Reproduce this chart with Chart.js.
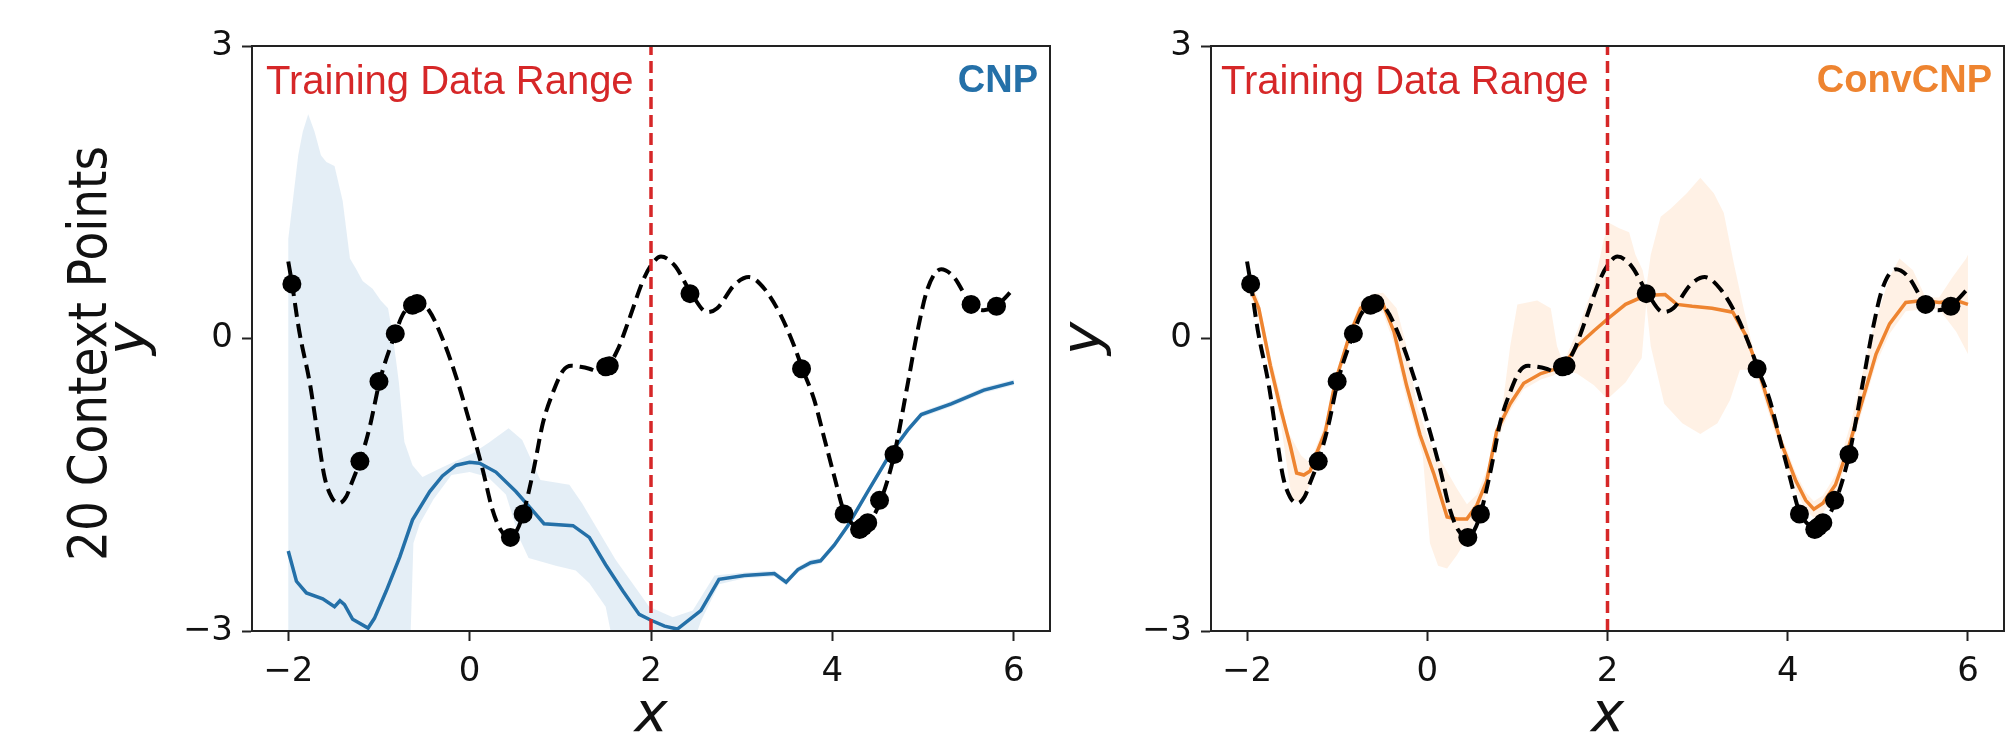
<!DOCTYPE html>
<html>
<head>
<meta charset="utf-8">
<title>CNP vs ConvCNP</title>
<script src="https://cdn.jsdelivr.net/npm/chart.js@4.4.1/dist/chart.umd.min.js"></script>
<style>
  html, body { margin: 0; padding: 0; background: #fff; overflow: hidden; }
  body { position: relative; width: 2016px; height: 739px; }
  canvas { position: absolute; top: 0; }
  #cnpChart { left: 0; }
  #convChart { left: 1030px; }
</style>
</head>
<body>
<canvas id="cnpChart" width="1070" height="750"></canvas>
<canvas id="convChart" width="986" height="750"></canvas>
<script>
// Axis setup shared by both panels
const xTicks = [-2, 0, 2, 4, 6];
const yTicks = [-3, 0, 3];
const xRange = [-2.4, 6.4];
const yRange = [-3, 3];
const trainingLimit = 2;

// Ground truth function (black dashed), same in both panels
const truthX = [-2.00, -1.96, -1.88, -1.76, -1.67, -1.60, -1.52, -1.44, -1.36, -1.30, -1.21, -1.10, -0.99, -0.82, -0.74, -0.64, -0.55, -0.45, -0.30, -0.15,
  0.00, 0.14, 0.25, 0.34, 0.44, 0.52, 0.59, 0.70, 0.81, 0.92, 1.03, 1.12, 1.22, 1.32, 1.42, 1.52, 1.63, 1.76, 1.91, 2.00,
  2.11, 2.26, 2.44, 2.62, 2.73, 2.92, 3.08, 3.25, 3.43, 3.58, 3.67, 3.80, 3.91, 4.02, 4.13, 4.22, 4.31, 4.41, 4.53, 4.68,
  4.83, 4.94, 5.05, 5.20, 5.34, 5.53, 5.67, 5.80, 6.00];
const truthY = [0.79, 0.57, 0.08, -0.47, -1.02, -1.42, -1.63, -1.69, -1.62, -1.48, -1.26, -0.90, -0.43, 0.05, 0.24, 0.34, 0.36, 0.29, 0.00, -0.39,
  -0.86, -1.33, -1.75, -1.96, -2.04, -1.97, -1.80, -1.37, -0.86, -0.55, -0.33, -0.28, -0.29, -0.31, -0.34, -0.29, -0.12, 0.20, 0.59, 0.75,
  0.84, 0.75, 0.47, 0.27, 0.31, 0.55, 0.63, 0.51, 0.24, -0.08, -0.31, -0.63, -1.02, -1.41, -1.78, -1.90, -1.93, -1.88, -1.67, -1.20,
  -0.47, 0.08, 0.51, 0.71, 0.63, 0.35, 0.29, 0.33, 0.51];

// 20 context points
const contextX = [-1.96, -1.21, -1.00, -0.82, -0.63, -0.58, 0.45, 0.59, 1.50, 1.54, 2.43, 3.66, 4.13, 4.30, 4.34, 4.39, 4.52, 4.68, 5.53, 5.81];
const contextY = [0.56, -1.26, -0.44, 0.05, 0.34, 0.36, -2.04, -1.80, -0.29, -0.28, 0.46, -0.31, -1.80, -1.96, -1.93, -1.89, -1.66, -1.19, 0.35, 0.33];

// CNP mean and confidence band
const cnpMeanX = [-2.00, -1.91, -1.80, -1.62, -1.49, -1.43, -1.38, -1.29, -1.12, -1.05, -0.92, -0.77, -0.63, -0.44, -0.30, -0.15, 0.00, 0.11, 0.29, 0.51,
  0.70, 0.82, 1.14, 1.32, 1.50, 1.69, 1.87, 2.00, 2.15, 2.29, 2.55, 2.75, 3.03, 3.36, 3.49, 3.62, 3.76, 3.87, 4.02, 4.17,
  4.39, 4.64, 4.83, 4.98, 5.31, 5.67, 6.00];
const cnpMeanY = [-2.18, -2.49, -2.61, -2.67, -2.75, -2.69, -2.73, -2.88, -2.97, -2.87, -2.59, -2.24, -1.86, -1.57, -1.41, -1.30, -1.27, -1.28, -1.37, -1.57,
  -1.77, -1.90, -1.92, -2.04, -2.32, -2.59, -2.83, -2.89, -2.95, -2.98, -2.79, -2.47, -2.43, -2.41, -2.50, -2.37, -2.30, -2.28, -2.12, -1.92,
  -1.57, -1.18, -0.94, -0.78, -0.67, -0.53, -0.45];
const cnpUpperX = [-2.00, -1.95, -1.89, -1.84, -1.78, -1.71, -1.64, -1.58, -1.49, -1.40, -1.32, -1.25, -1.18, -1.07, -0.98, -0.90, -0.85, -0.78, -0.72, -0.63,
  -0.52, -0.30, 0.03, 0.21, 0.43, 0.58, 0.78, 1.10, 1.24, 1.61, 1.98, 2.24, 2.46, 2.70, 3.03, 3.36, 3.49, 3.62, 3.76, 3.87,
  4.02, 4.17, 4.39, 4.64, 4.83, 4.98, 5.31, 5.67, 6.00];
const cnpUpperY = [1.02, 1.41, 1.88, 2.12, 2.30, 2.12, 1.88, 1.81, 1.77, 1.41, 0.82, 0.71, 0.59, 0.51, 0.39, 0.31, 0.05, -0.45, -1.06, -1.30,
  -1.42, -1.32, -1.18, -1.07, -0.92, -1.04, -1.45, -1.50, -1.69, -2.27, -2.75, -2.86, -2.79, -2.43, -2.40, -2.38, -2.47, -2.34, -2.27, -2.25,
  -2.09, -1.89, -1.54, -1.15, -0.91, -0.75, -0.64, -0.50, -0.42];
const cnpLowerX = [-2.00, -0.66, -0.62, -0.55, -0.40, -0.20, 0.00, 0.20, 0.40, 0.55, 0.65, 0.95, 1.17, 1.32, 1.50, 1.62, 2.40, 2.55, 2.75, 3.03,
  3.36, 3.49, 3.62, 3.76, 3.87, 4.02, 4.17, 4.39, 4.64, 4.83, 4.98, 5.31, 5.67, 6.00];
const cnpLowerY = [-3.30, -3.30, -2.10, -1.90, -1.65, -1.40, -1.37, -1.42, -1.60, -2.05, -2.25, -2.33, -2.38, -2.51, -2.75, -3.30, -3.30, -2.90, -2.52, -2.46,
  -2.44, -2.53, -2.40, -2.33, -2.31, -2.15, -1.95, -1.60, -1.21, -0.97, -0.81, -0.70, -0.56, -0.48];

// ConvCNP mean and confidence band
const convMeanX = [-2.00, -1.87, -1.74, -1.63, -1.52, -1.45, -1.37, -1.30, -1.23, -1.13, -1.02, -0.86, -0.74, -0.60, -0.49, -0.37, -0.23, -0.08, 0.07, 0.22,
  0.33, 0.44, 0.55, 0.66, 0.77, 0.92, 1.07, 1.26, 1.40, 1.51, 1.66, 1.85, 2.00, 2.20, 2.42, 2.64, 2.77, 2.94, 3.16, 3.39,
  3.53, 3.66, 3.79, 3.94, 4.09, 4.20, 4.29, 4.39, 4.53, 4.68, 4.83, 4.98, 5.13, 5.31, 5.50, 5.68, 5.87, 6.00];
const convMeanY = [0.60, 0.31, -0.28, -0.71, -1.10, -1.38, -1.40, -1.36, -1.18, -0.95, -0.44, 0.04, 0.31, 0.39, 0.35, 0.07, -0.48, -0.99, -1.38, -1.83,
  -1.85, -1.85, -1.71, -1.46, -0.95, -0.67, -0.46, -0.36, -0.32, -0.28, -0.08, 0.08, 0.20, 0.35, 0.44, 0.45, 0.35, 0.33, 0.31, 0.27,
  0.04, -0.28, -0.67, -1.10, -1.46, -1.66, -1.75, -1.69, -1.50, -1.10, -0.63, -0.16, 0.15, 0.37, 0.39, 0.37, 0.39, 0.35];
const convUpperX = [-2.00, -1.87, -1.74, -1.63, -1.55, -1.50, -1.40, -1.30, -1.23, -1.13, -1.02, -0.86, -0.74, -0.60, -0.49, -0.34, -0.23, -0.11, 0.03, 0.18,
  0.33, 0.44, 0.55, 0.66, 0.81, 0.92, 1.00, 1.22, 1.37, 1.44, 1.51, 1.66, 1.85, 1.96, 2.03, 2.13, 2.24, 2.31, 2.39, 2.43,
  2.48, 2.59, 2.70, 2.88, 3.03, 3.18, 3.29, 3.40, 3.51, 3.64, 3.76, 3.94, 4.09, 4.20, 4.29, 4.39, 4.53, 4.70, 4.94, 5.13,
  5.24, 5.39, 5.53, 5.68, 5.83, 5.98, 6.00];
const convUpperY = [0.68, 0.40, -0.18, -0.58, -0.95, -1.03, -1.20, -1.28, -1.10, -0.87, -0.38, 0.10, 0.38, 0.46, 0.47, 0.31, -0.08, -0.71, -1.07, -1.30,
  -1.54, -1.70, -1.60, -1.35, -0.87, -0.08, 0.35, 0.39, 0.31, -0.08, -0.25, 0.07, 0.55, 1.02, 1.18, 1.13, 1.09, 0.86, 0.70, 0.52,
  0.86, 1.25, 1.33, 1.49, 1.65, 1.49, 1.29, 0.78, 0.31, -0.20, -0.55, -1.02, -1.38, -1.58, -1.67, -1.61, -1.40, -0.87, 0.07, 0.63,
  0.82, 0.70, 0.42, 0.42, 0.63, 0.82, 0.86];
const convLowerX = [-2.00, -1.87, -1.74, -1.63, -1.55, -1.50, -1.40, -1.30, -1.23, -1.13, -1.02, -0.86, -0.74, -0.60, -0.49, -0.37, -0.23, -0.05, 0.03, 0.12,
  0.22, 0.33, 0.44, 0.55, 0.66, 0.77, 0.92, 1.07, 1.26, 1.40, 1.51, 1.66, 1.85, 2.00, 2.20, 2.38, 2.43, 2.48, 2.63, 2.83,
  3.03, 3.22, 3.36, 3.47, 3.55, 3.66, 3.79, 3.94, 4.09, 4.20, 4.29, 4.39, 4.53, 4.68, 4.83, 4.98, 5.13, 5.31, 5.50, 5.68,
  5.87, 6.00];
const convLowerY = [0.52, 0.22, -0.38, -0.84, -1.35, -1.66, -1.68, -1.50, -1.28, -1.03, -0.52, -0.04, 0.22, 0.31, 0.26, -0.05, -0.62, -1.20, -2.10, -2.33,
  -2.36, -2.22, -2.05, -1.85, -1.58, -1.05, -0.74, -0.52, -0.42, -0.38, -0.32, -0.36, -0.48, -0.62, -0.45, -0.20, 0.36, -0.08, -0.67, -0.87,
  -0.98, -0.87, -0.63, -0.32, -0.32, -0.38, -0.77, -1.20, -1.56, -1.76, -1.84, -1.79, -1.60, -1.20, -0.73, -0.26, 0.05, 0.28, 0.30, 0.30,
  0.07, -0.16];

Chart.defaults.font.family = "'DejaVu Sans', sans-serif";

function toPoints(xs, ys) {
  return xs.map((x, i) => ({ x: x, y: ys[i] }));
}

// Closed outline: upper edge left to right, then lower edge back
function bandShape(upX, upY, loX, loY) {
  return toPoints(upX, upY).concat(toPoints(loX, loY).reverse());
}

function fmtTick(value) {
  return value < 0 ? '\u2212' + Math.abs(value) : String(value);
}

// Frame, in-plot labels and the row label
function panelDecor(cfg) {
  return {
    id: 'panelDecor',
    afterDatasetsDraw(chart) {
      const ctx = chart.ctx;
      const area = chart.chartArea;
      ctx.save();
      ctx.strokeStyle = '#222';
      ctx.lineWidth = 2;
      ctx.strokeRect(area.left, area.top, area.right - area.left, area.bottom - area.top);

      ctx.fillStyle = '#d62728';
      ctx.font = '40px "Liberation Sans", Arial, sans-serif';
      ctx.textAlign = 'left';
      ctx.textBaseline = 'alphabetic';
      ctx.fillText('Training Data Range', area.left + cfg.rangeOffset, area.top + 48);

      ctx.fillStyle = cfg.color;
      ctx.font = 'bold 38px "Liberation Sans", Arial, sans-serif';
      ctx.textAlign = 'right';
      ctx.fillText(cfg.model, area.right - 12, area.top + 46);

      if (cfg.rowLabel) {
        ctx.translate(106, (area.top + area.bottom) / 2 + 15);
        ctx.rotate(-Math.PI / 2);
        // glyphs in the source are a bit taller than DejaVu, stretch across
        ctx.scale(1, 1.15);
        ctx.fillStyle = '#111';
        ctx.font = '47px "DejaVu Sans", sans-serif';
        ctx.textAlign = 'center';
        ctx.fillText(cfg.rowLabel, 0, 0);
      }
      ctx.restore();
    }
  };
}

function buildPanel(canvasId, p) {
  const ctx = document.getElementById(canvasId).getContext('2d');
  return new Chart(ctx, {
    type: 'line',
    data: {
      datasets: [{
        label: 'Context points',
        data: toPoints(contextX, contextY),
        showLine: false,
        pointRadius: 9.5,
        pointBackgroundColor: '#000',
        pointBorderWidth: 0
      }, {
        label: 'Training data limit',
        data: [{ x: trainingLimit, y: yRange[0] }, { x: trainingLimit, y: yRange[1] }],
        borderColor: '#d62728',
        borderWidth: 3.5,
        borderDash: [12, 6],
        pointRadius: 0
      }, {
        label: 'Ground truth',
        data: toPoints(truthX, truthY),
        borderColor: '#000',
        borderWidth: 4,
        borderDash: [14, 7],
        cubicInterpolationMode: 'monotone',
        pointRadius: 0
      }, {
        label: p.model + ' mean',
        data: p.mean,
        borderColor: p.color,
        borderWidth: 3.5,
        pointRadius: 0
      }, {
        label: p.model + ' band',
        data: p.band,
        fill: 'shape',
        backgroundColor: p.fill,
        borderWidth: 0,
        pointRadius: 0
      }]
    },
    options: {
      responsive: false,
      animation: false,
      devicePixelRatio: 1,
      layout: { padding: { top: 46, right: p.padRight, left: 0, bottom: 0 } },
      plugins: { legend: { display: false }, tooltip: { enabled: false } },
      elements: { line: { tension: 0 } },
      scales: {
        x: {
          type: 'linear',
          min: xRange[0],
          max: xRange[1],
          afterBuildTicks: s => { s.ticks = xTicks.map(v => ({ value: v })); },
          afterFit: s => { s.height = 119; },
          grid: { drawOnChartArea: false, tickLength: 10, tickWidth: 2, tickColor: '#222' },
          border: { color: '#222', width: 2 },
          ticks: { color: '#111', font: { size: 34 }, padding: 11, maxRotation: 0, callback: v => fmtTick(v) },
          title: { display: true, text: 'x', color: '#111', font: { size: 56, style: 'italic' }, padding: 0 }
        },
        y: {
          type: 'linear',
          min: yRange[0],
          max: yRange[1],
          afterBuildTicks: s => { s.ticks = yTicks.map(v => ({ value: v })); },
          afterFit: s => { s.width = p.yAxisWidth; },
          grid: { drawOnChartArea: false, tickLength: 10, tickWidth: 2, tickColor: '#222' },
          border: { color: '#222', width: 2 },
          ticks: { color: '#111', font: { size: 34 }, padding: 9, callback: v => fmtTick(v) },
          title: { display: true, text: 'y', color: '#111', font: { size: 56, style: 'italic' }, padding: { top: p.yTitlePad, bottom: 0 } }
        }
      }
    },
    plugins: [panelDecor(p)]
  });
}

buildPanel('cnpChart', {
  model: 'CNP',
  color: '#2470a8',
  fill: 'rgba(31, 119, 180, 0.12)',
  mean: toPoints(cnpMeanX, cnpMeanY),
  band: bandShape(cnpUpperX, cnpUpperY, cnpLowerX, cnpLowerY),
  padRight: 20,
  yAxisWidth: 252,
  yTitlePad: 97,
  rangeOffset: 14,
  rowLabel: '20 Context Points'
});

buildPanel('convChart', {
  model: 'ConvCNP',
  color: '#ee8430',
  fill: 'rgba(255, 127, 14, 0.11)',
  mean: toPoints(convMeanX, convMeanY),
  band: bandShape(convUpperX, convUpperY, convLowerX, convLowerY),
  padRight: 12,
  yAxisWidth: 181,
  yTitlePad: 22,
  rangeOffset: 10,
  rowLabel: null
});
</script>
</body>
</html>
